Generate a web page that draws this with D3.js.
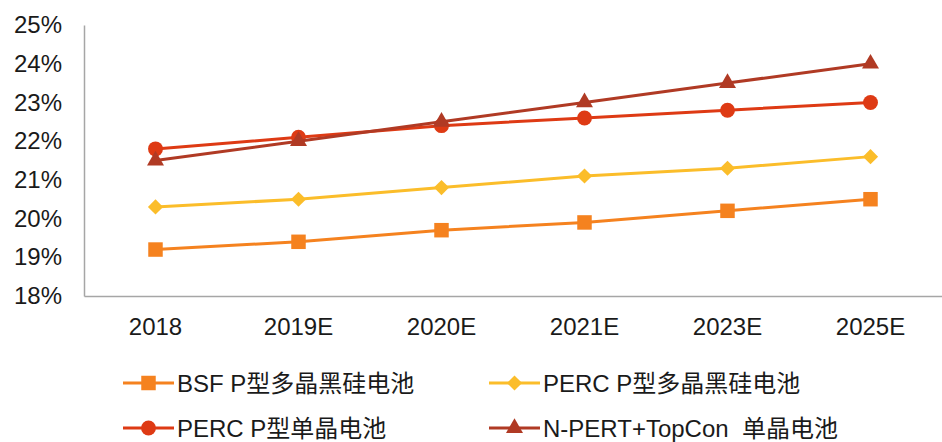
<!DOCTYPE html>
<html>
<head>
<meta charset="utf-8">
<script src="https://cdn.jsdelivr.net/npm/d3@7"></script>
<style>
  body { margin: 0; background: #fff; }
  text { font-family: "Liberation Sans", Arial, "Noto Sans CJK SC", sans-serif; fill: #1a1a1a; }
</style>
</head>
<body>
<div id="chart"></div>
<script>
var categories = ["2018", "2019E", "2020E", "2021E", "2023E", "2025E"];
var yTicks = [18, 19, 20, 21, 22, 23, 24, 25];
var seriesNames = ["BSF P型多晶黑硅电池", "PERC P型多晶黑硅电池", "PERC P型单晶电池", "N-PERT+TopCon  单晶电池"];
var bsfValues = [19.2, 19.4, 19.7, 19.9, 20.2, 20.5];
var percMultiValues = [20.3, 20.5, 20.8, 21.1, 21.3, 21.6];
var percMonoValues = [21.8, 22.1, 22.4, 22.6, 22.8, 23.0];
var npertValues = [21.5, 22.0, 22.5, 23.0, 23.5, 24.0];

var svgWidth = 942;
var svgHeight = 442;

var svg = d3.select("#chart")
  .append("svg")
  .attr("width", svgWidth)
  .attr("height", svgHeight);

var x = d3.scaleBand()
  .domain(categories)
  .range([84, 942]);

var y = d3.scaleLinear()
  .domain([18, 25])
  .range([296, 25]);

// diamond drawn as a square turned 45 degrees
var diamond = {
  draw: function(context, size) {
    var r = Math.sqrt(size) / Math.SQRT2;
    context.moveTo(0, -r);
    context.lineTo(r, 0);
    context.lineTo(0, r);
    context.lineTo(-r, 0);
    context.closePath();
  }
};

var series = [
  { name: seriesNames[0], values: bsfValues, color: "#F5821F", symbol: d3.symbolSquare, size: 210 },
  { name: seriesNames[1], values: percMultiValues, color: "#FBBD2A", symbol: diamond, size: 115 },
  { name: seriesNames[2], values: percMonoValues, color: "#DE3A14", symbol: d3.symbolCircle, size: 175 },
  { name: seriesNames[3], values: npertValues, color: "#B03A24", symbol: d3.symbolTriangle, size: 125 }
];

// axes
var leftAxis = d3.axisLeft(y).tickValues(yTicks).tickSize(0).tickPadding(22)
  .tickFormat(d => d + "%");
svg.append("g")
  .attr("transform", "translate(84,0)")
  .call(leftAxis)
  .call(g => g.select(".domain").attr("stroke", "#a6a6a6").attr("stroke-width", 1.5))
  .call(g => g.selectAll("text").attr("font-size", 24).attr("fill", "#1a1a1a")
    .attr("font-family", "'Liberation Sans', Arial, sans-serif"));

var bottomAxis = d3.axisBottom(x).tickSize(0).tickPadding(22);
svg.append("g")
  .attr("transform", "translate(0,296)")
  .call(bottomAxis)
  .call(g => g.select(".domain").attr("stroke", "#a6a6a6").attr("stroke-width", 1.5))
  .call(g => g.selectAll("text").attr("font-size", 24).attr("fill", "#1a1a1a")
    .attr("font-family", "'Liberation Sans', Arial, sans-serif"));

var line = d3.line()
  .x((d, i) => x(categories[i]) + x.bandwidth() / 2)
  .y(d => y(d));

series.forEach(function(s) {
  svg.append("path")
    .datum(s.values)
    .attr("fill", "none")
    .attr("stroke", s.color)
    .attr("stroke-width", 3)
    .attr("d", line);
  svg.selectAll(null)
    .data(s.values)
    .enter()
    .append("path")
    .attr("d", d3.symbol().type(s.symbol).size(s.size))
    .attr("fill", s.color)
    .attr("transform", (d, i) => `translate(${x(categories[i]) + x.bandwidth() / 2},${y(d)})`);
});

// legend
var legendPos = [[123, 383], [489, 383], [123, 428], [489, 428]];
series.forEach(function(s, i) {
  var g = svg.append("g").attr("transform", `translate(${legendPos[i][0]},${legendPos[i][1]})`);
  g.append("line").attr("x1", 0).attr("x2", 51).attr("stroke", s.color).attr("stroke-width", 3);
  g.append("path")
    .attr("d", d3.symbol().type(s.symbol).size(s.size))
    .attr("fill", s.color)
    .attr("transform", "translate(25.5,0)");
  g.append("text")
    .attr("x", 54)
    .attr("y", 9)
    .attr("font-size", 24)
    .style("white-space", "pre")
    .text(s.name);
});
</script>
</body>
</html>
